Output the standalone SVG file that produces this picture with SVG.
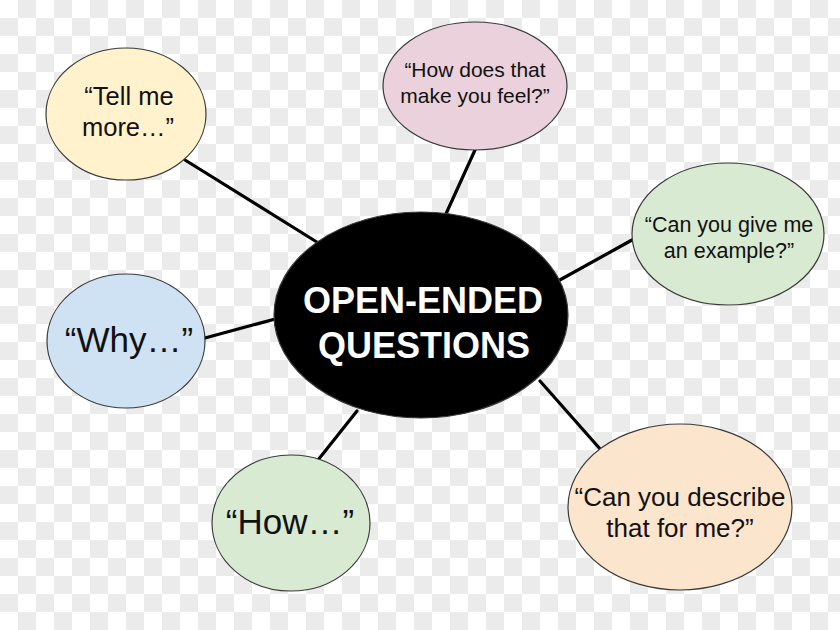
<svg xmlns="http://www.w3.org/2000/svg" width="840" height="630" viewBox="0 0 840 630">
<defs>
<pattern id="checker" width="36" height="36" patternUnits="userSpaceOnUse">
<rect width="36" height="36" fill="#ffffff"/>
<rect x="18" y="0" width="18" height="18" fill="#ebebeb"/>
<rect x="0" y="18" width="18" height="18" fill="#ebebeb"/>
</pattern>
</defs>
<style>
.node ellipse{stroke:#3a3a3a;stroke-width:1.2}
.t{font-family:"Liberation Sans",Arial,sans-serif;fill:#111;text-anchor:middle}
.c line{stroke:#000;stroke-width:3.2;stroke-linecap:round}
</style>
<rect width="840" height="630" fill="url(#checker)"/>
<g id="connectors" class="c">
<line x1="185" y1="160" x2="320" y2="244"/>
<line x1="475" y1="150" x2="445" y2="216"/>
<line x1="632" y1="240" x2="558" y2="281"/>
<line x1="205" y1="338" x2="279" y2="318"/>
<line x1="318" y1="460" x2="357" y2="411"/>
<line x1="601" y1="450" x2="540" y2="381"/>
</g>
<g id="tell" class="node">
<ellipse cx="126" cy="114" rx="80" ry="66" fill="#fff2cc"/>
<text class="t" font-size="25.5"><tspan x="129" y="105">“Tell me</tspan><tspan x="128" y="136">more…”</tspan></text>
</g>
<g id="feel" class="node">
<ellipse cx="475" cy="86" rx="92" ry="64" fill="#ead1dc"/>
<text class="t" font-size="21"><tspan x="475" y="77">“How does that</tspan><tspan x="475" y="103">make you feel?”</tspan></text>
</g>
<g id="example" class="node">
<ellipse cx="728" cy="234" rx="96" ry="71" fill="#d9ead3"/>
<text class="t" font-size="21.5"><tspan x="729" y="232">“Can you give me</tspan><tspan x="729" y="258">an example?”</tspan></text>
</g>
<g id="why" class="node">
<ellipse cx="126" cy="341" rx="79" ry="67" fill="#cfe2f3"/>
<text class="t" font-size="35" x="129" y="352">“Why…”</text>
</g>
<g id="how" class="node">
<ellipse cx="291" cy="523" rx="79" ry="68" fill="#d9ead3"/>
<text class="t" font-size="35" x="290" y="534">“How…”</text>
</g>
<g id="describe" class="node">
<ellipse cx="680" cy="507" rx="112" ry="83" fill="#fce5cd"/>
<text class="t" font-size="26"><tspan x="680" y="506">“Can you describe</tspan><tspan x="680" y="537">that for me?”</tspan></text>
</g>
<g id="center" class="node">
<ellipse cx="421" cy="315" rx="147" ry="103" fill="#000" stroke="#000"/>
<text class="t" font-size="36" font-weight="bold" style="fill:#fff"><tspan x="423" y="313">OPEN-ENDED</tspan><tspan x="424" y="358">QUESTIONS</tspan></text>
</g>
</svg>
